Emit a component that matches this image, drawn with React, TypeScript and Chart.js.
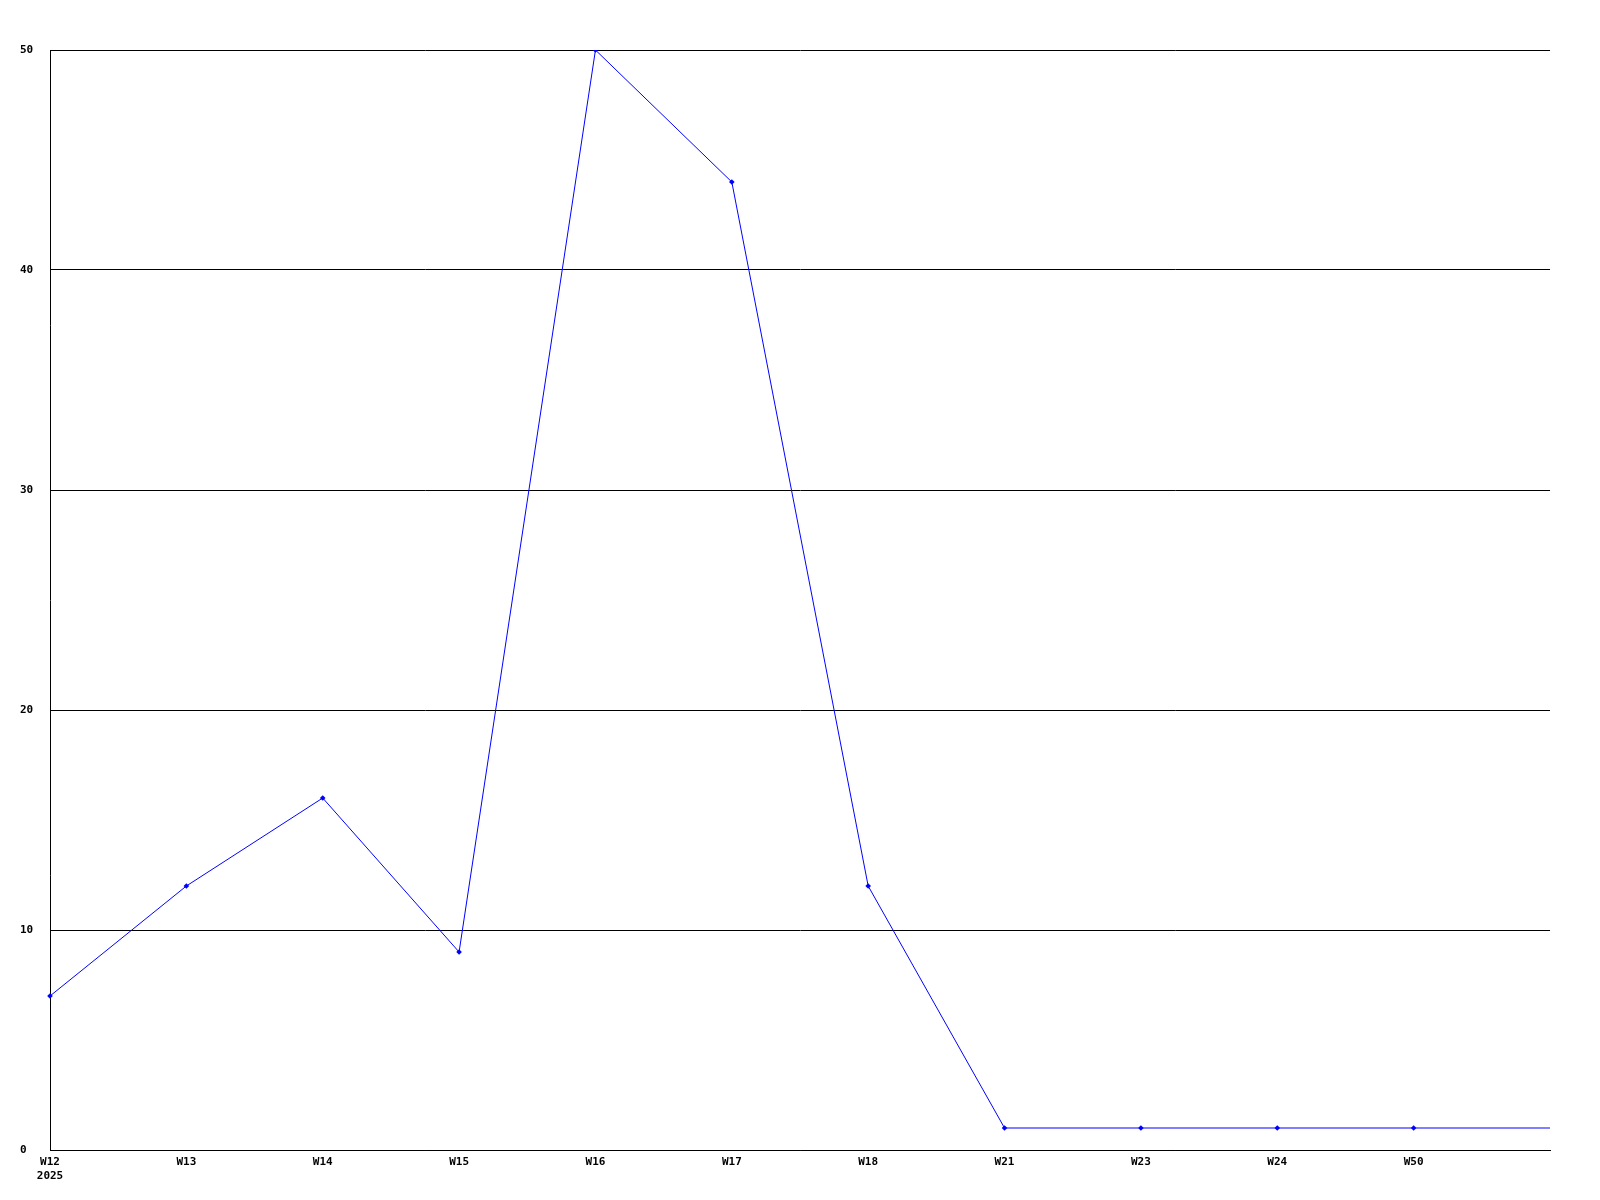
import React, { useEffect, useRef } from "react";
import { Chart, registerables } from "chart.js";

Chart.register(...registerables);

const weeks = ["W12", "W13", "W14", "W15", "W16", "W17", "W18", "W21", "W23", "W24", "W50", ""];
const yearLabel = "2025";
const counts = [7, 12, 16, 9, 50, 44, 12, 1, 1, 1, 1, 1];
const yTicks = [0, 10, 20, 30, 40, 50];

export default function App() {
  const ref = useRef<HTMLCanvasElement | null>(null);
  useEffect(() => {
    if (!ref.current) return;
    const labels = weeks.map((w, i) => (i === 0 ? [w, yearLabel] : w));
    const font = { family: "'DejaVu Sans Mono', monospace", size: 11, weight: "bold" as const };
    const chart = new Chart(ref.current, {
      type: "line",
      data: {
        labels,
        datasets: [
          {
            data: counts,
            borderColor: "#0000ff",
            backgroundColor: "#0000ff",
            borderWidth: 1,
            pointStyle: "rectRot",
            pointRadius: counts.map((_, i) => (i === counts.length - 1 ? 0 : 2.8)),
            pointBorderWidth: 0,
            tension: 0,
            fill: false,
          },
        ],
      },
      options: {
        animation: false,
        responsive: false,
        events: [],
        layout: { padding: { left: 20, top: 50, right: 50, bottom: 0 } },
        plugins: { legend: { display: false }, tooltip: { enabled: false }, title: { display: false } },
        scales: {
          x: {
            type: "category",
            offset: false,
            grid: { display: false, drawTicks: false },
            border: { display: true, color: "#000", width: 1 },
            ticks: {
              color: "#000",
              font,
              padding: 6,
              autoSkip: false,
              maxRotation: 0,
              minRotation: 0,
            },
            afterFit: (s: any) => {
              s.height = 50;
            },
          },
          y: {
            min: 0,
            max: 50,
            afterBuildTicks: (s: any) => {
              s.ticks = yTicks.map((v) => ({ value: v }));
            },
            grid: { display: true, color: "#000", lineWidth: 1, drawTicks: false },
            border: { display: true, color: "#000", width: 1 },
            ticks: {
              color: "#000",
              font,
              crossAlign: "far",
              padding: 0,
            },
            afterFit: (s: any) => {
              s.width = 30;
            },
          },
        },
      },
    });
    return () => chart.destroy();
  }, []);
  return (
    <div style={{ position: "fixed", left: 0, top: 0, width: 1600, height: 1200, background: "#fff" }}>
      <canvas ref={ref} width={1600} height={1200} style={{ display: "block" }} />
    </div>
  );
}
